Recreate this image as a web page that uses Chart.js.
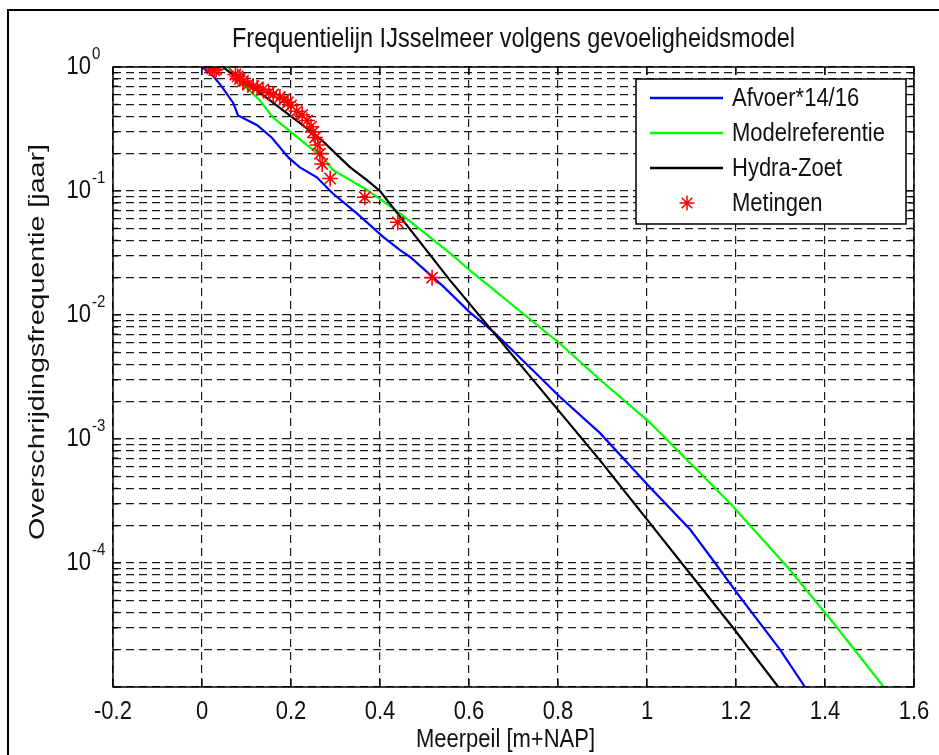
<!DOCTYPE html>
<html>
<head>
<meta charset="utf-8">
<title>Frequentielijn IJsselmeer</title>
<script src="https://cdn.jsdelivr.net/npm/chart.js@4.4.1/dist/chart.umd.min.js"></script>
<style>
  html, body { margin: 0; padding: 0; background: #fff; }
  #wrap { width: 939px; height: 755px; }
</style>
</head>
<body>
<div id="wrap"><canvas id="c" width="939" height="755"></canvas></div>
<script>
// --- data ---
const xTicks = [-0.2, 0, 0.2, 0.4, 0.6, 0.8, 1, 1.2, 1.4, 1.6];
const yLabelExps = [0, -1, -2, -3, -4];
const yDecades = [-5, -4, -3, -2, -1];
const yMinorSteps = [1, 2, 3, 4, 5, 6, 7, 8, 9];

const afvoerX = [0.000, 0.029, 0.047, 0.070, 0.081, 0.124, 0.157, 0.195, 0.220, 0.258, 0.294, 0.348, 0.407, 0.445, 0.467, 0.542, 0.602, 0.658, 0.804, 0.894, 1.007, 1.097, 1.153, 1.202, 1.299, 1.355];
const afvoerY = [1.0, 0.815, 0.676, 0.513, 0.407, 0.339, 0.269, 0.185, 0.155, 0.129, 0.0955, 0.066, 0.0427, 0.0334, 0.0295, 0.017, 0.0105, 0.00716, 0.00219, 0.00112, 0.000407, 0.000186, 0.0001, 0.0000575, 0.00002, 0.00001];

const modelX = [0.058, 0.101, 0.130, 0.160, 0.198, 0.236, 0.272, 0.294, 0.371, 0.445, 0.557, 0.602, 0.804, 0.894, 1.007, 1.187, 1.315, 1.418, 1.532];
const modelY = [1.0, 0.676, 0.537, 0.389, 0.302, 0.234, 0.186, 0.148, 0.102, 0.066, 0.0316, 0.0229, 0.00589, 0.00302, 0.00135, 0.000302, 0.0000933, 0.0000331, 0.00001];

const hydraX = [0.047, 0.070, 0.124, 0.175, 0.227, 0.272, 0.310, 0.333, 0.370, 0.400, 0.557, 0.894, 1.193, 1.295];
const hydraY = [1.0, 0.861, 0.646, 0.468, 0.339, 0.251, 0.186, 0.155, 0.123, 0.100, 0.0191, 0.000676, 0.0000302, 0.00001];

const metingX = [0.020, 0.024, 0.028, 0.032, 0.075, 0.080, 0.085, 0.092, 0.103, 0.115, 0.124, 0.137, 0.150, 0.160, 0.175, 0.185, 0.193, 0.200, 0.213, 0.225, 0.236, 0.245, 0.250, 0.254, 0.260, 0.265, 0.270, 0.288, 0.366, 0.440, 0.517];
const metingY = [1.0, 0.97, 0.94, 0.96, 0.87, 0.84, 0.80, 0.77, 0.72, 0.70, 0.68, 0.66, 0.62, 0.60, 0.57, 0.55, 0.52, 0.49, 0.44, 0.41, 0.37, 0.33, 0.30, 0.27, 0.235, 0.20, 0.165, 0.126, 0.089, 0.056, 0.020];

const seriesNames = ['Afvoer*14/16', 'Modelreferentie', 'Hydra-Zoet', 'Metingen'];
const seriesColors = ['#0000ff', '#00ff00', '#000000', '#ff0000'];

const FONT = '"Liberation Sans", Arial, sans-serif';
const STRETCH = 1.15;   // the reference figure is a bit taller than wide

function pts(xs, ys) {
  return xs.map((x, i) => ({x: x, y: ys[i]}));
}

// all gridline values of the log axis: 1..9 x 10^k, plus 10^0
const yGridVals = [];
yDecades.forEach(k => yMinorSteps.forEach(m => yGridVals.push(m * Math.pow(10, k))));
yGridVals.push(1);

function drawStar(ctx, cx, cy, r) {
  ctx.beginPath();
  for (let a = 0; a < 4; a++) {
    const ang = a * Math.PI / 4;
    ctx.moveTo(cx - r * Math.cos(ang), cy - r * Math.sin(ang));
    ctx.lineTo(cx + r * Math.cos(ang), cy + r * Math.sin(ang));
  }
  ctx.stroke();
}

// horizontal text, stretched vertically around its middle
function text(ctx, s, x, y) {
  ctx.save();
  ctx.translate(x, y);
  ctx.scale(1, STRETCH);
  ctx.fillText(s, 0, 0);
  ctx.restore();
}

// --- figure decorations (MATLAB look) ---
const matlabLook = {
  id: 'matlabLook',
  beforeDraw(chart) {
    const ctx = chart.ctx;
    ctx.save();
    ctx.fillStyle = '#fff';
    ctx.fillRect(0, 0, chart.width, chart.height);
    ctx.strokeStyle = '#000';
    ctx.lineWidth = 2;
    ctx.beginPath();
    ctx.moveTo(8, chart.height);
    ctx.lineTo(8, 10);
    ctx.lineTo(chart.width, 10);
    ctx.stroke();
    ctx.restore();
  },
  afterDraw(chart) {
    const {ctx, chartArea: a, scales: {x, y}} = chart;
    ctx.save();

    // axes box
    ctx.strokeStyle = '#000';
    ctx.lineWidth = 1.5;
    ctx.strokeRect(a.left, a.top, a.right - a.left, a.bottom - a.top);

    // inner tick marks
    ctx.lineWidth = 1.2;
    ctx.beginPath();
    xTicks.forEach(v => {
      const px = x.getPixelForValue(v);
      ctx.moveTo(px, a.bottom); ctx.lineTo(px, a.bottom - 8);
      ctx.moveTo(px, a.top); ctx.lineTo(px, a.top + 8);
    });
    yGridVals.forEach(v => {
      const py = y.getPixelForValue(v);
      const major = Math.abs(Math.log10(v) - Math.round(Math.log10(v))) < 1e-9;
      const len = major ? 8 : 5;
      ctx.moveTo(a.left, py); ctx.lineTo(a.left + len, py);
      ctx.moveTo(a.right, py); ctx.lineTo(a.right - len, py);
    });
    ctx.stroke();

    ctx.fillStyle = '#111';
    ctx.textBaseline = 'middle';

    // x tick labels
    ctx.font = '22px ' + FONT;
    ctx.textAlign = 'center';
    xTicks.forEach(v => {
      const s = Math.abs(v - Math.round(v)) < 1e-9 ? String(Math.round(v)) : String(v);
      text(ctx, s, x.getPixelForValue(v), 712);
    });

    // y tick labels 10^k
    yLabelExps.forEach(k => {
      const py = y.getPixelForValue(Math.pow(10, k));
      ctx.font = '22px ' + FONT;
      ctx.textAlign = 'right';
      text(ctx, '10', 91, py);
      ctx.font = '15px ' + FONT;
      ctx.textAlign = 'left';
      text(ctx, String(k), 92, py - 13);
    });

    // title and axis labels
    ctx.font = '23.5px ' + FONT;
    ctx.textAlign = 'center';
    text(ctx, 'Frequentielijn IJsselmeer volgens gevoeligheidsmodel', (a.left + a.right) / 2, 40);
    ctx.font = '22px ' + FONT;
    text(ctx, 'Meerpeil [m+NAP]', (a.left + a.right) / 2 - 8, 740);
    ctx.save();
    ctx.translate(38, 342);
    ctx.rotate(-Math.PI / 2);
    ctx.scale(1.3, 1);
    ctx.fillText('Overschrijdingsfrequentie [jaar]', 0, 0);
    ctx.restore();

    // legend box
    const lx = 636, ly = 79, lw = 270, lh = 145;
    ctx.fillStyle = '#fff';
    ctx.fillRect(lx, ly, lw, lh);
    ctx.strokeStyle = '#000';
    ctx.lineWidth = 1.5;
    ctx.strokeRect(lx, ly, lw, lh);
    const rows = [98, 133, 168, 203];
    ctx.font = '22px ' + FONT;
    ctx.textAlign = 'left';
    seriesNames.forEach((name, i) => {
      ctx.strokeStyle = seriesColors[i];
      if (i < 3) {
        ctx.lineWidth = 2.5;
        ctx.beginPath();
        ctx.moveTo(650, rows[i]);
        ctx.lineTo(723, rows[i]);
        ctx.stroke();
      } else {
        ctx.lineWidth = 1.5;
        drawStar(ctx, 687, rows[i], 7.5);
      }
      ctx.fillStyle = '#111';
      text(ctx, name, 732, rows[i] + 1);
    });

    ctx.restore();
  }
};

const gridStyle = {color: '#1a1a1a', lineWidth: 1.2, drawTicks: false};
const gridBorder = {display: false, dash: [8, 5]};

new Chart(document.getElementById('c'), {
  type: 'line',
  data: {
    datasets: [
      {label: seriesNames[3], data: pts(metingX, metingY), showLine: false, pointStyle: 'star',
       pointRadius: 8, pointBorderColor: seriesColors[3], pointBorderWidth: 1.6, borderColor: seriesColors[3], order: 0},
      {label: seriesNames[2], data: pts(hydraX, hydraY), borderColor: seriesColors[2], borderWidth: 2.2, pointRadius: 0, order: 1},
      {label: seriesNames[1], data: pts(modelX, modelY), borderColor: seriesColors[1], borderWidth: 2.2, pointRadius: 0, order: 2},
      {label: seriesNames[0], data: pts(afvoerX, afvoerY), borderColor: seriesColors[0], borderWidth: 2.2, pointRadius: 0, order: 3}
    ]
  },
  options: {
    responsive: false,
    animation: false,
    layout: {padding: {left: 113, right: 25, top: 67, bottom: 68}},
    elements: {line: {tension: 0, fill: false}},
    plugins: {legend: {display: false}, tooltip: {enabled: false}},
    scales: {
      x: {
        type: 'linear', min: xTicks[0], max: xTicks[xTicks.length - 1],
        afterBuildTicks: scale => { scale.ticks = xTicks.map(v => ({value: v})); },
        ticks: {display: false},
        grid: gridStyle,
        border: gridBorder
      },
      y: {
        type: 'logarithmic', min: 1e-5, max: 1,
        afterBuildTicks: scale => { scale.ticks = yGridVals.map(v => ({value: v})); },
        ticks: {display: false},
        grid: gridStyle,
        border: gridBorder
      }
    }
  },
  plugins: [matlabLook]
});
</script>
</body>
</html>
